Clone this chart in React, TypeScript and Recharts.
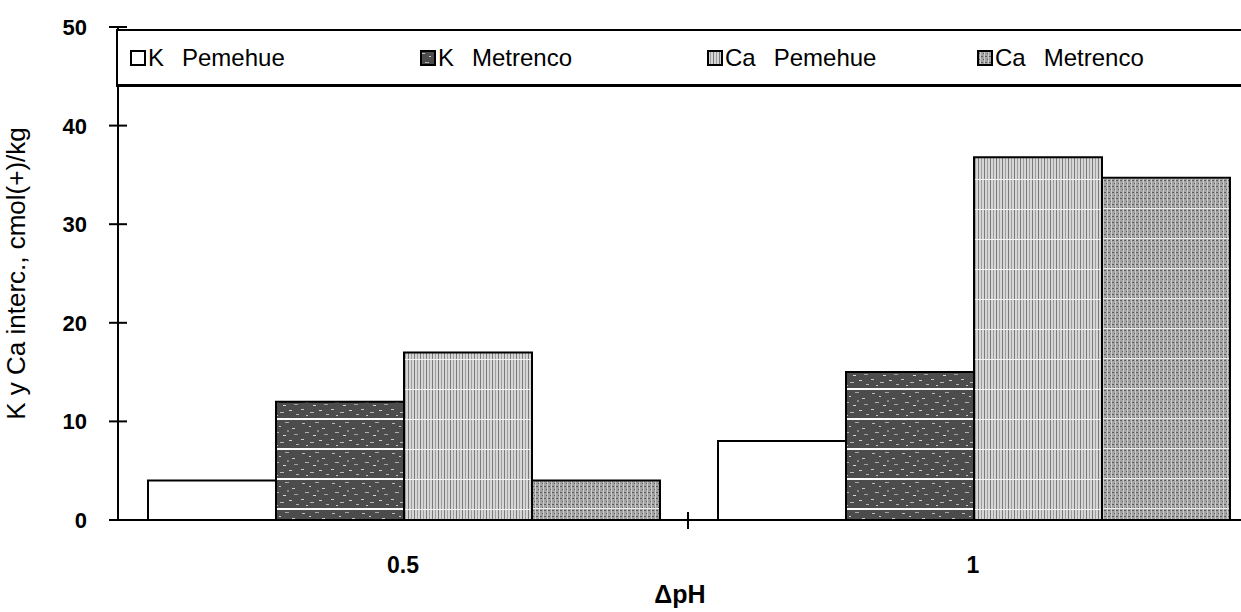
import { BarChart, Bar, XAxis, YAxis, Label } from "recharts";

// values
const categories = ["0.5", "1"];
const kPemehue = [4, 8];
const kMetrenco = [12, 15];
const caPemehue = [17, 36.8];
const caMetrenco = [4, 34.7];
const yTicks = [0, 10, 20, 30, 40, 50];

const series = [
  { key: "kPem", ion: "K", site: "Pemehue", fill: "#ffffff", values: kPemehue },
  { key: "kMet", ion: "K", site: "Metrenco", fill: "url(#patKMet)", values: kMetrenco },
  { key: "caPem", ion: "Ca", site: "Pemehue", fill: "url(#patCaPem)", values: caPemehue },
  { key: "caMet", ion: "Ca", site: "Metrenco", fill: "url(#patCaMet)", values: caMetrenco },
];

const data = categories.map((name, i) => {
  const row: Record<string, any> = { name };
  series.forEach((s) => (row[s.key] = s.values[i]));
  return row;
});

const FONT = "'Liberation Sans', Arial, sans-serif";

const YTick = (props: any) => {
  const { x, y, payload } = props;
  return (
    <g>
      <line x1={x - 9} x2={x + 9} y1={y} y2={y} stroke="#000" strokeWidth={2} />
      <text x={x - 31} y={y} dy={8} textAnchor="end" fontSize={22} fontWeight="bold" fontFamily={FONT} fill="#000">
        {payload.value}
      </text>
    </g>
  );
};

// category label at the band centre, divider tick at the band edge
const CatTick = (props: any) => {
  const { x, y, payload, index, visibleTicksCount } = props;
  const half = payload?.offset ?? 0;
  return (
    <g>
      {index < visibleTicksCount - 1 && (
        <line x1={x + half} x2={x + half} y1={y - 8} y2={y + 9} stroke="#000" strokeWidth={2} />
      )}
      <text x={x} y={y + 53} textAnchor="middle" fontSize={23} fontWeight="bold" fontFamily={FONT} fill="#000">
        {payload.value}
      </text>
    </g>
  );
};

function Patterns() {
  return (
    <defs>
      <pattern id="patKMet" width={30} height={30} patternUnits="userSpaceOnUse">
        <rect width={30} height={30} fill="#4c4c4c" />
        <rect x={2} y={3} width={3} height={1} fill="#bdbdbd" />
        <rect x={9} y={6} width={2} height={1} fill="#d0d0d0" />
        <rect x={15} y={2} width={4} height={1} fill="#a8a8a8" />
        <rect x={22} y={8} width={3} height={1} fill="#c8c8c8" />
        <rect x={5} y={12} width={4} height={1} fill="#b0b0b0" />
        <rect x={13} y={15} width={3} height={1} fill="#d8d8d8" />
        <rect x={24} y={14} width={4} height={1} fill="#a0a0a0" />
        <rect x={1} y={19} width={3} height={1} fill="#cccccc" />
        <rect x={10} y={22} width={4} height={1} fill="#b8b8b8" />
        <rect x={19} y={20} width={3} height={1} fill="#d4d4d4" />
        <rect x={26} y={24} width={3} height={1} fill="#b4b4b4" />
        <rect x={6} y={25} width={2} height={1} fill="#c4c4c4" />
        <rect x={17} y={10} width={2} height={2} fill="#8a8a8a" />
        <rect x={0} y={28} width={30} height={2} fill="#ffffff" />
      </pattern>
      <pattern id="patCaPem" width={6} height={30} patternUnits="userSpaceOnUse">
        <rect width={6} height={30} fill="#d6d6d6" />
        <rect x={0} y={0} width={1} height={30} fill="#7a7a7a" />
        <rect x={3} y={0} width={1} height={30} fill="#9e9e9e" />
        <rect x={0} y={29} width={6} height={1} fill="#f2f2f2" />
      </pattern>
      <pattern id="patCaMet" width={4} height={30} patternUnits="userSpaceOnUse">
        <rect width={4} height={30} fill="#a2a2a2" />
        {Array.from({ length: 10 }).map((_, i) => (
          <rect key={i} x={(i % 2) * 2} y={i * 3} width={2} height={1} fill="#5e5e5e" />
        ))}
        <rect x={3} y={0} width={1} height={30} fill="#cdcdcd" />
        <rect x={0} y={28} width={4} height={1} fill="#eeeeee" />
      </pattern>
    </defs>
  );
}

function LegendBox() {
  const widths = [290, 287, 270, 250];
  return (
    <div
      style={{
        position: "absolute",
        left: 116,
        top: 29,
        width: 1150,
        height: 58,
        border: "2px solid #000",
        borderBottomWidth: 3,
        background: "#fff",
        display: "flex",
        alignItems: "center",
        paddingLeft: 12,
        boxSizing: "border-box",
        fontFamily: FONT,
        fontSize: 24,
        color: "#000",
      }}
    >
      {series.map((s, i) => (
        <div key={s.key} style={{ width: widths[i], display: "flex", alignItems: "center", flexShrink: 0 }}>
          <svg width={16} height={16} style={{ marginRight: 2 }}>
            <rect x={1} y={1} width={14} height={14} fill={s.fill} stroke="#000" strokeWidth={2} />
          </svg>
          <span>{s.ion}</span>
          <span style={{ marginLeft: 18 }}>{s.site}</span>
        </div>
      ))}
    </div>
  );
}

export default function App() {
  return (
    <div
      style={{
        position: "absolute",
        left: 0,
        top: 0,
        width: 1241,
        height: 612,
        overflow: "hidden",
        background: "#fff",
      }}
    >
      <BarChart
        width={1258}
        height={612}
        data={data}
        margin={{ top: 27, right: 0, bottom: 0, left: 0 }}
        barCategoryGap={30}
        barGap={0}
      >
        <Patterns />
        <XAxis
          dataKey="name"
          height={92}
          axisLine={{ stroke: "#000", strokeWidth: 2 }}
          tickLine={false}
          tickSize={0}
          tickMargin={0}
          tick={<CatTick />}
        >
          <Label
            value="ΔpH"
            position="insideBottom"
            offset={9}
            dx={-8}
            style={{ fontSize: 25, fontWeight: "bold", fontFamily: FONT, fill: "#000" }}
          />
        </XAxis>
        <YAxis
          domain={[0, 50]}
          ticks={yTicks}
          width={118}
          axisLine={{ stroke: "#000", strokeWidth: 2 }}
          tickLine={false}
          tickSize={0}
          tickMargin={0}
          tick={<YTick />}
        >
          <Label
            value="K y Ca interc., cmol(+)/kg"
            angle={-90}
            position="insideLeft"
            offset={16}
            style={{ textAnchor: "middle", fontSize: 26, fontFamily: FONT, fill: "#000" }}
          />
        </YAxis>
        {series.map((s) => (
          <Bar
            key={s.key}
            dataKey={s.key}
            name={`${s.ion} ${s.site}`}
            fill={s.fill}
            stroke="#000"
            strokeWidth={2}
            isAnimationActive={false}
          />
        ))}
      </BarChart>
      <LegendBox />
    </div>
  );
}
